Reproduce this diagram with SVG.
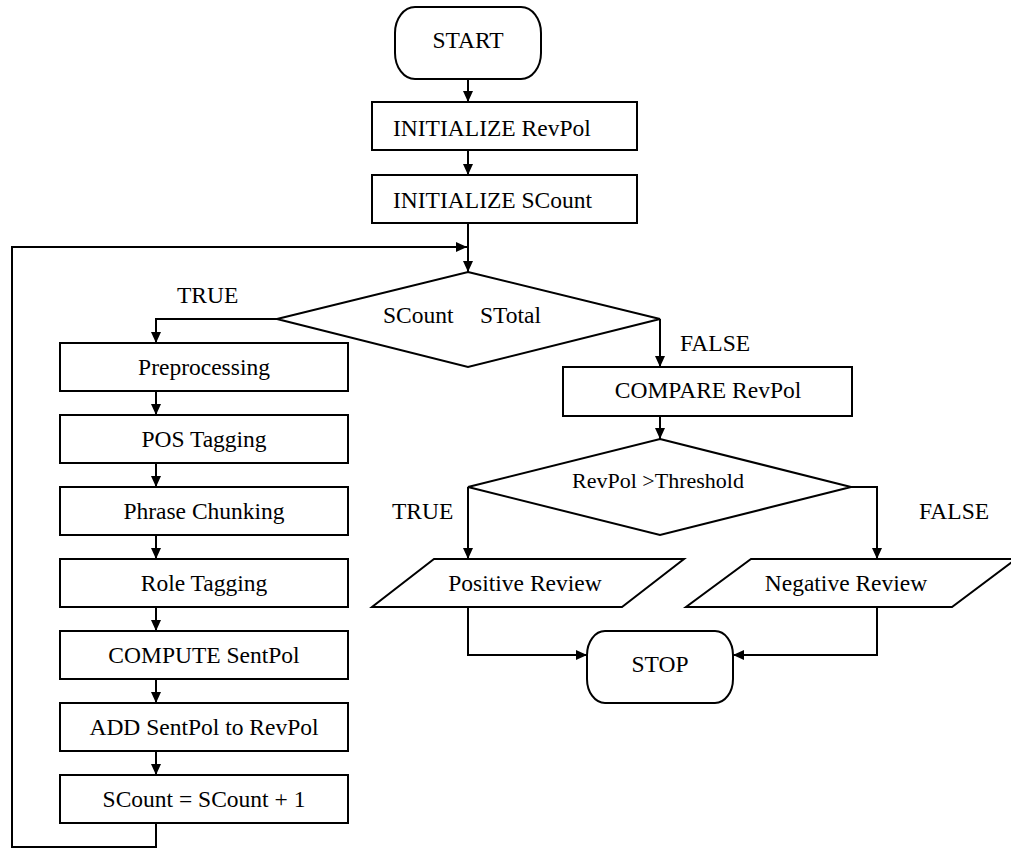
<svg xmlns="http://www.w3.org/2000/svg" width="1011" height="848" viewBox="0 0 1011 848">
<defs>
<marker id="arr" markerUnits="userSpaceOnUse" markerWidth="12" markerHeight="10" refX="11" refY="5" orient="auto">
<path d="M0,0 L11,5 L0,10 z" fill="#000"/>
</marker>
<style>
.s{fill:#fff;stroke:#000;stroke-width:2}
.t{font-family:"Liberation Serif","Times New Roman",serif;font-size:23.5px;fill:#000;text-anchor:middle}
.l{font-family:"Liberation Serif","Times New Roman",serif;font-size:23.5px;fill:#000}
.c{fill:none;stroke:#000;stroke-width:2}
</style>
</defs>
<rect width="1011" height="848" fill="#fff"/>
<g id="connectors">
<path class="c" d="M468,79 V102" marker-end="url(#arr)"/>
<path class="c" d="M468,150 V175" marker-end="url(#arr)"/>
<path class="c" d="M468,223 V272" marker-end="url(#arr)"/>
<path class="c" d="M156,823 V847 H12 V247 H467" marker-end="url(#arr)"/>
<path class="c" d="M277,319 H156 V343" marker-end="url(#arr)"/>
<path class="c" d="M660,319 V367" marker-end="url(#arr)"/>
<path class="c" d="M156,391 V415" marker-end="url(#arr)"/>
<path class="c" d="M156,463 V487" marker-end="url(#arr)"/>
<path class="c" d="M156,535 V559" marker-end="url(#arr)"/>
<path class="c" d="M156,607 V631" marker-end="url(#arr)"/>
<path class="c" d="M156,679 V703" marker-end="url(#arr)"/>
<path class="c" d="M156,751 V775" marker-end="url(#arr)"/>
<path class="c" d="M660,416 V439" marker-end="url(#arr)"/>
<path class="c" d="M468,487 V559" marker-end="url(#arr)"/>
<path class="c" d="M851,487 H877 V559" marker-end="url(#arr)"/>
<path class="c" d="M468,607 V655 H587" marker-end="url(#arr)"/>
<path class="c" d="M877,607 V655 H733" marker-end="url(#arr)"/>
<text class="l" x="177" y="303">TRUE</text>
<text class="l" x="680" y="351">FALSE</text>
<text class="l" x="392" y="519">TRUE</text>
<text class="l" x="919" y="519">FALSE</text>
</g>
<g id="start">
<rect class="s" x="395" y="7" width="146" height="72" rx="20" ry="26"/>
<text class="t" x="468" y="48">START</text>
</g>
<g id="init-revpol">
<rect class="s" x="372" y="102" width="265" height="48"/>
<text class="l" x="393" y="136">INITIALIZE RevPol</text>
</g>
<g id="init-scount">
<rect class="s" x="372" y="175" width="265" height="48"/>
<text class="l" x="393" y="208">INITIALIZE SCount</text>
</g>
<g id="decision-scount">
<polygon class="s" points="468,272 660,319 468,367 277,319"/>
<text class="l" y="323"><tspan x="383">SCount</tspan><tspan x="480">STotal</tspan></text>
</g>
<g id="preprocessing">
<rect class="s" x="60" y="343" width="288" height="48"/>
<text class="t" x="204" y="375">Preprocessing</text>
</g>
<g id="pos-tagging">
<rect class="s" x="60" y="415" width="288" height="48"/>
<text class="t" x="204" y="447">POS Tagging</text>
</g>
<g id="phrase-chunking">
<rect class="s" x="60" y="487" width="288" height="48"/>
<text class="t" x="204" y="519">Phrase Chunking</text>
</g>
<g id="role-tagging">
<rect class="s" x="60" y="559" width="288" height="48"/>
<text class="t" x="204" y="591">Role Tagging</text>
</g>
<g id="compute-sentpol">
<rect class="s" x="60" y="631" width="288" height="48"/>
<text class="t" x="204" y="663">COMPUTE SentPol</text>
</g>
<g id="add-sentpol">
<rect class="s" x="60" y="703" width="288" height="48"/>
<text class="t" x="204" y="735">ADD SentPol to RevPol</text>
</g>
<g id="increment">
<rect class="s" x="60" y="775" width="288" height="48"/>
<text class="t" x="204" y="807">SCount = SCount + 1</text>
</g>
<g id="compare-revpol">
<rect class="s" x="563" y="367" width="289" height="49"/>
<text class="t" x="708" y="398">COMPARE RevPol</text>
</g>
<g id="decision-threshold">
<polygon class="s" points="660,439 851,487 660,535 468,487"/>
<text class="t" x="658" y="488" style="font-size:22px">RevPol &gt;Threshold</text>
</g>
<g id="positive-review">
<polygon class="s" points="434,559 684,559 622,607 372,607"/>
<text class="t" x="525" y="591">Positive Review</text>
</g>
<g id="negative-review">
<polygon class="s" points="751,559 1016,559 952,607 686,607"/>
<text class="t" x="846" y="591">Negative Review</text>
</g>
<g id="stop">
<rect class="s" x="587" y="631" width="146" height="72" rx="18" ry="24"/>
<text class="t" x="660" y="672">STOP</text>
</g>
</svg>
